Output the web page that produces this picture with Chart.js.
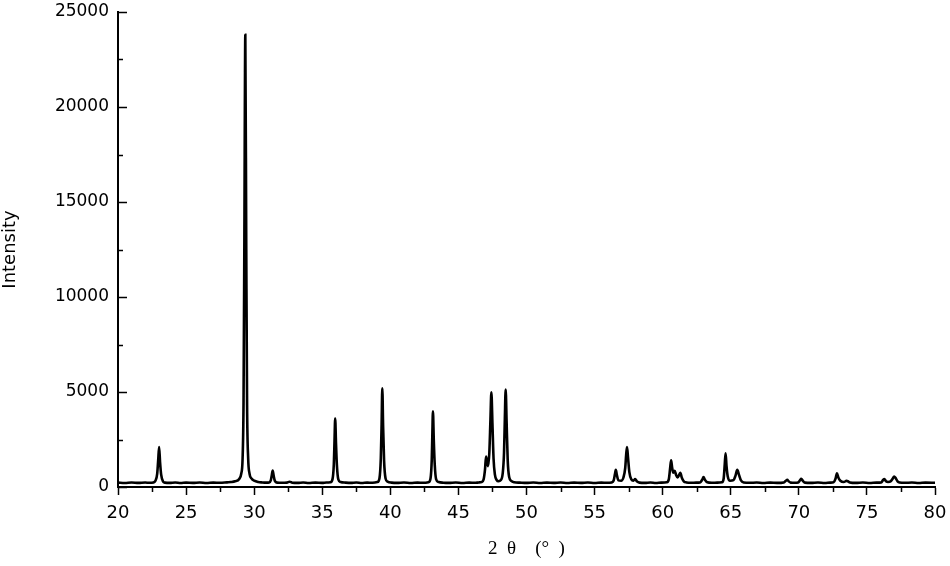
<!DOCTYPE html>
<html>
<head>
<meta charset="utf-8">
<script src="https://cdn.jsdelivr.net/npm/chart.js@4/dist/chart.umd.min.js"></script>
<style>
  html, body { margin: 0; padding: 0; background: #fff; }
  #wrap { width: 950px; height: 566px; position: relative; }
</style>
</head>
<body>
<div id="wrap"><canvas id="xrd"></canvas></div>
<script>
// XRD pattern (2theta in degrees, counts)
const twoTheta = [
  20.0, 20.5, 21.0, 21.5, 22.0, 22.3, 22.6, 22.75, 22.88, 22.95,
  23.02, 23.09, 23.17, 23.3, 23.45, 23.8, 24.2, 24.6, 25.0, 25.5,
  26.0, 26.5, 27.0, 27.5, 28.0, 28.3, 28.6, 28.9, 29.05, 29.15,
  29.22, 29.28, 29.35, 29.42, 29.48, 29.56, 29.66, 29.8, 30.0, 30.3,
  30.6, 30.9, 31.1, 31.22, 31.3, 31.36, 31.43, 31.52, 31.7, 32.0,
  32.4, 32.6, 32.8, 33.2, 33.6, 34.0, 34.5, 35.0, 35.3, 35.6,
  35.75, 35.85, 35.9, 35.95, 36.01, 36.08, 36.18, 36.35, 36.7, 37.1,
  37.5, 37.9, 38.3, 38.7, 39.05, 39.2, 39.3, 39.36, 39.41, 39.47,
  39.54, 39.65, 39.8, 40.1, 40.5, 41.0, 41.5, 42.0, 42.4, 42.8,
  42.95, 43.04, 43.08, 43.13, 43.19, 43.26, 43.36, 43.55, 43.9, 44.3,
  44.8, 45.3, 45.8, 46.2, 46.5, 46.7, 46.85, 46.95, 47.03, 47.1,
  47.18, 47.27, 47.35, 47.42, 47.5, 47.58, 47.68, 47.8, 47.95, 48.1,
  48.25, 48.35, 48.41, 48.47, 48.54, 48.62, 48.72, 48.88, 49.1, 49.5,
  50.0, 50.5, 51.0, 51.5, 52.0, 52.5, 53.0, 53.5, 54.0, 54.5,
  55.0, 55.5, 55.9, 56.25, 56.4, 56.5, 56.56, 56.63, 56.75, 56.95,
  57.12, 57.25, 57.32, 57.38, 57.45, 57.55, 57.7, 57.85, 57.98, 58.1,
  58.3, 58.7, 59.1, 59.5, 59.9, 60.3, 60.45, 60.55, 60.62, 60.7,
  60.78, 60.88, 60.98, 61.1, 61.22, 61.3, 61.4, 61.55, 61.75, 62.1,
  62.45, 62.75, 62.9, 63.0, 63.1, 63.28, 63.6, 64.0, 64.35, 64.48,
  64.56, 64.62, 64.69, 64.78, 64.95, 65.2, 65.35, 65.48, 65.6, 65.75,
  65.95, 66.4, 66.9, 67.4, 67.9, 68.4, 68.9, 69.05, 69.15, 69.25,
  69.4, 69.7, 69.95, 70.08, 70.18, 70.3, 70.45, 70.9, 71.4, 71.9,
  72.3, 72.55, 72.7, 72.8, 72.9, 73.05, 73.3, 73.5, 73.6, 73.75,
  74.2, 74.7, 75.2, 75.7, 76.05, 76.2, 76.28, 76.4, 76.55, 76.75,
  76.9, 77.0, 77.1, 77.25, 77.4, 77.8, 78.3, 78.8, 79.3, 80.0
];
const intensity = [
  230, 210, 240, 215, 235, 220, 240, 330, 700, 1400,
  2100, 1300, 650, 300, 230, 215, 235, 210, 230, 215,
  240, 210, 230, 220, 245, 260, 300, 420, 700, 1500,
  4500, 13000, 23800, 12500, 4300, 1500, 700, 450, 330, 260,
  240, 230, 240, 350, 650, 860, 600, 320, 230, 220,
  230, 280, 225, 215, 235, 210, 230, 215, 235, 250,
  400, 1200, 2400, 3600, 2300, 1100, 400, 260, 230, 215,
  235, 210, 230, 225, 260, 450, 1500, 3300, 5200, 3200,
  1400, 450, 280, 230, 215, 235, 210, 230, 220, 250,
  450, 1400, 2600, 3980, 2500, 1200, 420, 260, 225, 215,
  235, 210, 230, 220, 240, 260, 400, 900, 1600, 1350,
  1100, 1800, 3500, 4980, 3300, 1500, 650, 380, 300, 350,
  700, 1800, 3600, 5130, 3400, 1400, 550, 320, 250, 230,
  215, 235, 210, 230, 215, 235, 210, 230, 215, 235,
  210, 230, 220, 240, 340, 700, 900, 650, 350, 330,
  500, 1000, 1700, 2100, 1600, 800, 400, 330, 420, 300,
  230, 215, 235, 210, 230, 250, 400, 1000, 1400, 1000,
  750, 850, 650, 500, 650, 750, 500, 300, 240, 220,
  230, 240, 380, 520, 380, 250, 225, 230, 250, 450,
  1200, 1780, 1100, 550, 330, 360, 600, 900, 650, 350,
  240, 220, 235, 210, 230, 215, 240, 330, 380, 300,
  230, 220, 240, 350, 430, 320, 230, 215, 235, 210,
  230, 250, 450, 720, 500, 330, 260, 320, 300, 240,
  215, 235, 210, 230, 240, 380, 420, 300, 260, 300,
  450, 550, 480, 300, 240, 220, 235, 210, 230, 220
];

// axis tick values
const xMinorTicks = [22.5, 27.5, 32.5, 37.5, 42.5, 47.5, 52.5, 57.5, 62.5, 67.5, 72.5, 77.5];
const yMajorTicks = [0, 5000, 10000, 15000, 20000, 25000];
const yMinorTicks = [2500, 7500, 12500, 17500, 22500];

const points = twoTheta.map((t, i) => ({ x: t, y: intensity[i] }));

// extra tick marks: x minor ticks point down, y ticks point into the plot
const tickMarks = {
  id: 'tickMarks',
  afterDraw(chart) {
    const ctx = chart.ctx;
    const xs = chart.scales.x;
    const ys = chart.scales.y;
    ctx.save();
    ctx.strokeStyle = '#000';
    ctx.lineWidth = 1.5;
    ctx.beginPath();
    xMinorTicks.forEach(v => {
      const px = Math.round(xs.getPixelForValue(v)) + 0.5;
      ctx.moveTo(px, ys.bottom);
      ctx.lineTo(px, ys.bottom + 5);
    });
    yMajorTicks.forEach(v => {
      const py = Math.round(ys.getPixelForValue(v)) + 0.5;
      ctx.moveTo(xs.left, py);
      ctx.lineTo(xs.left + 9, py);
    });
    yMinorTicks.forEach(v => {
      const py = Math.round(ys.getPixelForValue(v)) + 0.5;
      ctx.moveTo(xs.left, py);
      ctx.lineTo(xs.left + 5, py);
    });
    ctx.stroke();
    ctx.restore();
  }
};

new Chart(document.getElementById('xrd'), {
  type: 'line',
  data: {
    datasets: [{
      data: points,
      borderColor: '#000',
      borderWidth: 2.6,
      pointRadius: 0,
      cubicInterpolationMode: 'monotone',
      fill: false
    }]
  },
  options: {
    responsive: true,
    maintainAspectRatio: false,
    animation: false,
    layout: {
      padding: { top: 0, right: 15, left: 0, bottom: 0 }
    },
    plugins: {
      legend: { display: false },
      tooltip: { enabled: false }
    },
    scales: {
      x: {
        type: 'linear',
        min: 20,
        max: 80,
        afterFit: (scale) => {
          scale.height = 79;
          scale.paddingLeft = 0;
          scale.paddingRight = 0;
        },
        border: { display: true, color: '#000', width: 2 },
        grid: {
          drawOnChartArea: false,
          drawTicks: true,
          tickLength: 8,
          tickColor: '#000',
          tickWidth: 1.5
        },
        ticks: {
          stepSize: 5,
          color: '#000',
          padding: 8,
          maxRotation: 0,
          font: { family: '"DejaVu Sans", sans-serif', size: 18 }
        },
        title: {
          display: true,
          text: '2  θ    (°  )',
          color: '#000',
          padding: { top: 0, bottom: 6 },
          font: { family: '"Liberation Serif", "DejaVu Serif", serif', size: 19 }
        }
      },
      y: {
        min: 0,
        max: 25000,
        afterFit: (scale) => {
          scale.width = 118;
          scale.paddingTop = 12;
        },
        border: { display: true, color: '#000', width: 2 },
        grid: { drawOnChartArea: false, drawTicks: false },
        ticks: {
          stepSize: 5000,
          color: '#000',
          padding: 9,
          callback: (v) => String(v),
          font: { family: '"DejaVu Sans", sans-serif', size: 17 }
        },
        title: {
          display: true,
          text: 'Intensity',
          color: '#000',
          padding: { top: 0, bottom: 0 },
          font: { family: '"DejaVu Sans", sans-serif', size: 18 }
        }
      }
    }
  },
  plugins: [tickMarks]
});
</script>
</body>
</html>
